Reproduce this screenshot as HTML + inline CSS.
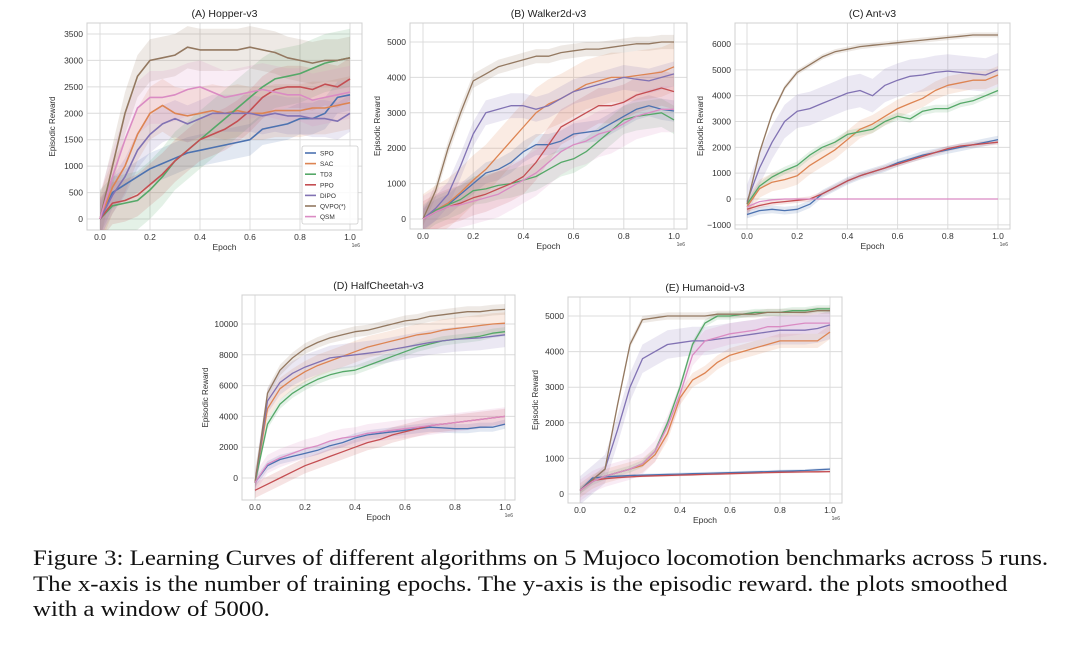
<!DOCTYPE html>
<html><head><meta charset="utf-8"><style>
body{margin:0;background:#fff;width:1080px;height:655px;overflow:hidden;position:relative;font-family:"Liberation Sans",sans-serif}
#cap{position:absolute;left:33px;top:545px;font-family:"Liberation Serif",serif;font-size:22px;line-height:25.5px;color:#111;white-space:nowrap;transform:scaleX(1.13);transform-origin:0 0}
svg{position:absolute;left:0;top:0}
</style></head><body>
<svg id="fig" width="1080" height="540"></svg>
<div id="cap">Figure 3: Learning Curves of different algorithms on 5 Mujoco locomotion benchmarks across 5 runs.<br>The x-axis is the number of training epochs. The y-axis is the episodic reward. the plots smoothed<br>with a window of 5000.</div>
<script>
const seriesNames=["SPO","SAC","TD3","PPO","DIPO","QVPO(*)","QSM"];
const xTicks=[0,0.2,0.4,0.6,0.8,1.0];
const xTickLabels=["0.0","0.2","0.4","0.6","0.8","1.0"];
const epochs=[0,0.05,0.1,0.15,0.2,0.25,0.3,0.35,0.4,0.45,0.5,0.55,0.6,0.65,0.7,0.75,0.8,0.85,0.9,0.95,1.0];
const hopperSPO=[0,500,650,800,950,1050,1150,1250,1300,1350,1400,1450,1500,1700,1750,1800,1900,1900,2000,2300,2350];
const hopperSAC=[0,600,1000,1600,2000,2150,2000,1950,2000,2050,2000,2050,2000,2000,2050,2050,2050,2100,2100,2150,2200];
const hopperTD3=[0,250,300,350,550,800,1100,1300,1500,1700,1900,2100,2300,2500,2650,2700,2750,2850,2950,3000,3050];
const hopperPPO=[0,300,350,450,650,850,1100,1300,1500,1600,1700,1850,2050,2300,2450,2500,2500,2450,2550,2500,2650];
const hopperDIPO=[0,450,800,1300,1600,1800,1900,1800,1900,2000,2000,2000,2000,1950,2000,1950,1950,1900,1900,1850,2000];
const hopperQVPO=[0,1000,2000,2700,3000,3050,3100,3250,3200,3200,3200,3200,3250,3200,3150,3050,3000,2950,3000,3000,3050];
const hopperQSM=[0,800,1500,2100,2300,2300,2350,2450,2500,2400,2300,2350,2400,2450,2400,2350,2350,2250,2300,2350,2400];
const hopperBand=[300,500,550,400,350,400,500];
const walkerSPO=[0,250,400,700,1000,1300,1400,1600,1900,2100,2100,2200,2400,2450,2500,2700,2900,3100,3200,3100,3050];
const walkerSAC=[0,250,450,750,1100,1400,1800,2200,2600,3000,3250,3400,3600,3800,3900,4000,4000,4050,4100,4150,4300];
const walkerTD3=[0,250,400,550,800,850,950,1000,1100,1200,1400,1600,1700,1900,2200,2500,2800,2900,2950,3000,2800];
const walkerPPO=[0,200,350,450,600,700,850,1000,1200,1600,2100,2600,2800,3000,3200,3200,3300,3500,3600,3700,3600];
const walkerDIPO=[0,300,700,1500,2400,3000,3100,3200,3200,3100,3200,3400,3600,3700,3800,3900,4000,3950,3900,4000,4100];
const walkerQVPO=[0,800,2000,3000,3900,4100,4300,4400,4500,4600,4600,4700,4750,4800,4800,4850,4900,4950,4950,5000,5000];
const walkerQSM=[0,200,350,400,500,600,700,900,1100,1300,1600,1900,2100,2200,2400,2500,2700,2900,3000,3100,3100];
const walkerBand=[300,700,400,500,350,200,650];
const antSPO=[-600,-450,-400,-450,-400,-200,200,450,700,900,1050,1200,1400,1550,1700,1800,1900,2000,2100,2200,2300];
const antSAC=[-300,400,650,750,900,1300,1600,1900,2300,2700,2900,3200,3500,3700,3900,4200,4400,4500,4600,4600,4800];
const antTD3=[-200,500,850,1100,1300,1700,2000,2200,2500,2600,2700,3000,3200,3100,3400,3500,3500,3700,3800,4000,4200];
const antPPO=[-400,-250,-150,-100,-50,0,200,450,700,900,1050,1200,1350,1500,1650,1800,1950,2050,2100,2150,2200];
const antDIPO=[-100,1200,2200,3000,3400,3500,3700,3900,4100,4200,4000,4400,4600,4750,4800,4900,4950,4900,4850,4800,5000];
const antQVPO=[-200,1800,3300,4300,4900,5200,5500,5700,5800,5900,5950,6000,6050,6100,6150,6200,6250,6300,6350,6350,6350];
const antQSM=[-300,-100,-30,0,0,0,0,0,0,0,0,0,0,0,0,0,0,0,0,0,0];
const antBand=[150,350,150,100,650,100,20];
const cheetahSPO=[-300,800,1200,1400,1600,1800,2100,2300,2600,2800,2900,3000,3100,3200,3300,3250,3200,3200,3300,3300,3500];
const cheetahSAC=[-300,4500,5800,6400,6900,7300,7600,7900,8200,8500,8700,8900,9100,9300,9400,9600,9700,9800,9900,10000,10050];
const cheetahTD3=[-300,3500,4800,5500,6000,6400,6700,6900,7000,7300,7600,7900,8200,8500,8700,8900,9000,9100,9200,9400,9500];
const cheetahPPO=[-800,-400,0,400,800,1100,1400,1700,2000,2300,2500,2800,3000,3200,3400,3500,3600,3700,3800,3900,4000];
const cheetahDIPO=[-300,5000,6200,6800,7200,7500,7800,7900,8000,8100,8200,8350,8500,8650,8800,8900,9000,9050,9100,9200,9300];
const cheetahQVPO=[-300,5500,7000,7800,8400,8800,9100,9300,9500,9600,9800,10000,10200,10300,10500,10600,10700,10800,10800,10900,10950];
const cheetahQSM=[-300,900,1300,1600,1900,2100,2400,2600,2700,2900,3000,3100,3200,3300,3400,3500,3600,3700,3800,3900,4000];
const cheetahBand=[300,700,300,500,800,350,600];
const humanSPO=[100,450,480,500,520,530,540,550,560,570,580,590,600,610,620,630,640,650,660,680,700];
const humanSAC=[100,350,500,600,700,800,1100,1700,2700,3200,3400,3700,3900,4000,4100,4200,4300,4300,4300,4300,4550];
const humanTD3=[100,350,500,600,700,850,1200,2000,3000,4200,4800,5000,5000,5050,5100,5100,5100,5150,5150,5200,5200];
const humanPPO=[100,380,430,460,480,500,510,520,530,540,550,560,570,580,590,600,610,615,620,625,630];
const humanDIPO=[100,400,700,1800,3000,3800,4000,4200,4250,4300,4300,4350,4400,4450,4500,4550,4600,4600,4600,4650,4750];
const humanQVPO=[100,400,700,2500,4200,4900,4950,5000,5000,5000,5000,5050,5050,5050,5050,5100,5100,5100,5100,5150,5150];
const humanQSM=[100,350,500,600,700,850,1200,1900,2800,3900,4300,4400,4500,4550,4600,4700,4700,4750,4800,4800,4800];
const humanBand=[40,200,100,30,400,100,300];
const hopperYTicks=[0,500,1000,1500,2000,2500,3000,3500];
const walkerYTicks=[0,1000,2000,3000,4000,5000];
const antYTicks=[-1000,0,1000,2000,3000,4000,5000,6000];
const cheetahYTicks=[0,2000,4000,6000,8000,10000];
const humanYTicks=[0,1000,2000,3000,4000,5000];
const colors=["#4c72b0","#dd8452","#55a868","#c44e52","#8172b3","#937860","#da8bc3"];
const NS="http://www.w3.org/2000/svg";
const svg=document.getElementById('fig');
function mk(tag,attrs,parent){const e=document.createElementNS(NS,tag);for(const k in attrs)e.setAttribute(k,attrs[k]);(parent||svg).appendChild(e);return e;}
const panels=[
 {key:'hopper',title:'(A) Hopper-v3',box:[87,23,362,230],x0:100,x1:350,yv0:0,yp0:219,yv1:3500,yp1:34,ticks:hopperYTicks,series:[hopperSPO,hopperSAC,hopperTD3,hopperPPO,hopperDIPO,hopperQVPO,hopperQSM],band:hopperBand,legend:true,lw:1.6},
 {key:'walker',title:'(B) Walker2d-v3',box:[410,23,687,229],x0:423,x1:674,yv0:0,yp0:219,yv1:5000,yp1:42,ticks:walkerYTicks,series:[walkerSPO,walkerSAC,walkerTD3,walkerPPO,walkerDIPO,walkerQVPO,walkerQSM],band:walkerBand,lw:1.3},
 {key:'ant',title:'(C) Ant-v3',box:[735,23,1010,229],x0:747,x1:998,yv0:0,yp0:199,yv1:6000,yp1:44,ticks:antYTicks,series:[antSPO,antSAC,antTD3,antPPO,antDIPO,antQVPO,antQSM],band:antBand,lw:1.3},
 {key:'halfcheetah',title:'(D) HalfCheetah-v3',box:[242,295,515,500],x0:255,x1:505,yv0:0,yp0:478,yv1:10000,yp1:324,ticks:cheetahYTicks,series:[cheetahSPO,cheetahSAC,cheetahTD3,cheetahPPO,cheetahDIPO,cheetahQVPO,cheetahQSM],band:cheetahBand,lw:1.3},
 {key:'humanoid',title:'(E) Humanoid-v3',box:[568,297,842,503],x0:580,x1:830,yv0:0,yp0:494,yv1:5000,yp1:316,ticks:humanYTicks,series:[humanSPO,humanSAC,humanTD3,humanPPO,humanDIPO,humanQVPO,humanQSM],band:humanBand,lw:1.3}
];
panels.forEach(p=>{
 const g=mk('g',{});
 
 
 const [L,T,R,B]=p.box;
 const xs=v=>p.x0+(p.x1-p.x0)*v;
 const ys=v=>p.yp0+(p.yp1-p.yp0)*(v-p.yv0)/(p.yv1-p.yv0);
 const clip=mk('clipPath',{id:'c'+p.key},g);mk('rect',{x:L,y:T,width:R-L,height:B-T},clip);
 xTicks.forEach((t,i)=>{const x=xs(t);mk('line',{x1:x,x2:x,y1:T,y2:B,stroke:'#dcdcdc','stroke-width':1},g);
  const tx=mk('text',{x:x,y:B+10,'font-size':8.5,fill:'#333','text-anchor':'middle'},g);tx.textContent=xTickLabels[i];
  });
 p.ticks.forEach(t=>{const y=ys(t);mk('line',{x1:L,x2:R,y1:y,y2:y,stroke:'#dcdcdc','stroke-width':1},g);
  const tx=mk('text',{x:L-4,y:y+3,'font-size':8.5,fill:'#333','text-anchor':'end'},g);tx.textContent=(t<0?'\u22121000':String(t));
  });
 mk('rect',{x:L,y:T,width:R-L,height:B-T,fill:'none',stroke:'#d0d0d0','stroke-width':1},g);
 const sg=mk('g',{'clip-path':'url(#c'+p.key+')'},g);
 p.series.forEach((s,i)=>{const w=p.band[i];
  let up=s.map((v,j)=>xs(epochs[j]).toFixed(1)+','+ys(v+w).toFixed(1));
  let dn=s.map((v,j)=>xs(epochs[j]).toFixed(1)+','+ys(v-w).toFixed(1)).reverse();
  const b=mk('polygon',{points:up.concat(dn).join(' '),fill:colors[i],'fill-opacity':0.16,stroke:'none'},sg);
  
  });
 p.series.forEach((s,i)=>{
  const pl=mk('polyline',{points:s.map((v,j)=>xs(epochs[j]).toFixed(1)+','+ys(v).toFixed(1)).join(' '),fill:'none',stroke:colors[i],'stroke-width':p.lw,'stroke-linejoin':'round'},sg);
  
  });
 const ti=mk('text',{x:(L+R)/2,y:T-6,'font-size':10.5,fill:'#222','text-anchor':'middle'},g);ti.textContent=p.title;
 
 const xl=mk('text',{x:(L+R)/2,y:B+20,'font-size':8.5,fill:'#333','text-anchor':'middle'},g);xl.textContent='Epoch';
 
 const sc=mk('text',{x:R-2,y:B+17,'font-size':5,fill:'#444','text-anchor':'end'},g);sc.textContent='1e6';
 
 const yx=L-(p.key==='hopper'||p.key==='ant'?32:p.key==='halfcheetah'?34:30);
 const yl=mk('text',{x:yx,y:(T+B)/2,'font-size':8,fill:'#333','text-anchor':'middle',transform:'rotate(-90 '+yx+' '+(T+B)/2+')'},g);yl.textContent='Episodic Reward';
 
 if(p.legend){
  const lg=mk('g',{},g);
  
  mk('rect',{x:302,y:146,width:56,height:78,fill:'#fff','fill-opacity':0.85,stroke:'#ccc','stroke-width':0.8,rx:2},lg);
  seriesNames.forEach((n,i)=>{const y=153+i*10.6;
   mk('line',{x1:305,x2:316,y1:y,y2:y,stroke:colors[i],'stroke-width':1.6},lg);
   const t=mk('text',{x:320,y:y+2.5,'font-size':6.5,fill:'#333'},lg);t.textContent=n;
   });
 }
});
</script>
</body></html>
